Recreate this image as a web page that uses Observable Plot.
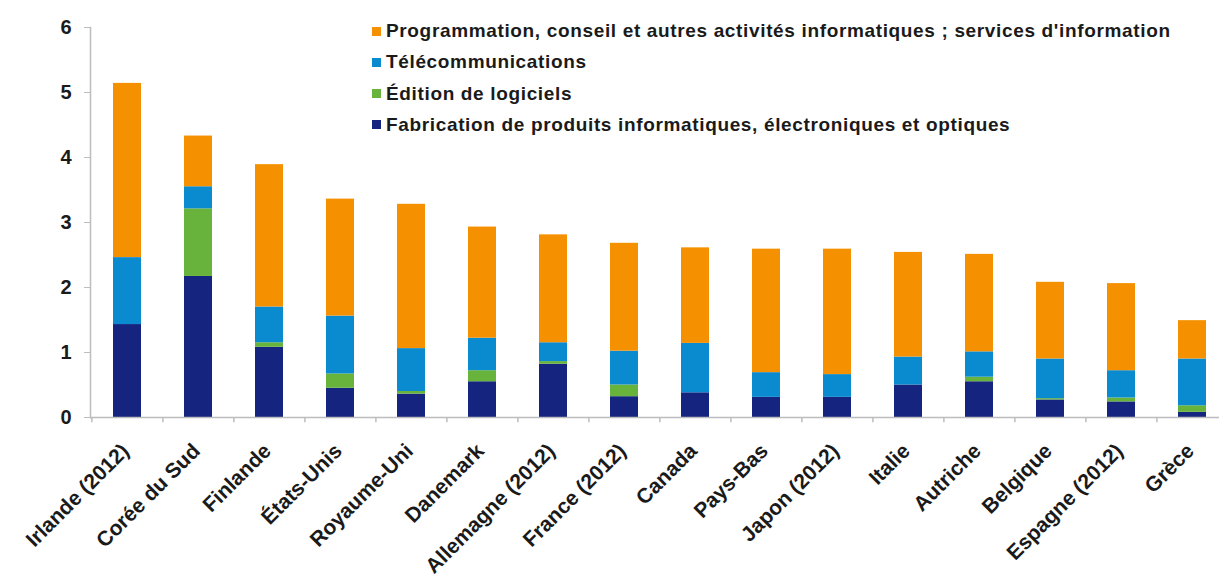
<!DOCTYPE html>
<html>
<head>
<meta charset="utf-8">
<script src="https://cdn.jsdelivr.net/npm/d3@7"></script>
<script src="https://cdn.jsdelivr.net/npm/@observablehq/plot@0.6"></script>
<style>
  html, body { margin: 0; padding: 0; background: #fff; }
  #wrap { position: relative; width: 1219px; height: 582px; font-family: "Liberation Sans", Arial, sans-serif; }
  #legend { position: absolute; left: 372px; top: 15.4px; font-weight: bold; font-size: 19px; letter-spacing: 0.65px; color: #1a1a1a; white-space: nowrap; }
  #legend .row { display: flex; align-items: center; height: 31.3px; }
  #legend .sw { width: 9px; height: 9px; margin-right: 5px; flex: none; }
</style>
</head>
<body>
<div id="wrap"><div id="legend"></div></div>
<script>
const countries = ["Irlande (2012)", "Corée du Sud", "Finlande", "États-Unis", "Royaume-Uni", "Danemark", "Allemagne (2012)", "France (2012)", "Canada", "Pays-Bas", "Japon (2012)", "Italie", "Autriche", "Belgique", "Espagne (2012)", "Grèce"];
const seriesNames = ["Fabrication de produits informatiques, électroniques et optiques", "Édition de logiciels", "Télécommunications", "Programmation, conseil et autres activités informatiques ; services d'information"];
const fab  = [1.43, 2.17, 1.08, 0.45, 0.36, 0.55, 0.82, 0.32, 0.38, 0.31, 0.31, 0.50, 0.55, 0.27, 0.24, 0.08];
const edit = [0.00, 1.04, 0.07, 0.22, 0.04, 0.17, 0.04, 0.18, 0.00, 0.00, 0.00, 0.00, 0.07, 0.02, 0.06, 0.10];
const tele = [1.03, 0.34, 0.55, 0.89, 0.66, 0.50, 0.29, 0.52, 0.76, 0.38, 0.35, 0.43, 0.39, 0.61, 0.42, 0.72];
const prog = [2.68, 0.78, 2.19, 1.80, 2.22, 1.71, 1.66, 1.66, 1.47, 1.90, 1.93, 1.61, 1.50, 1.18, 1.34, 0.59];
const colors = ["#14247f", "#67b33b", "#0a8bd0", "#f59100"];
const yTicks = [0, 1, 2, 3, 4, 5, 6];

const seriesValues = [fab, edit, tele, prog];
const data = [];
countries.forEach((c, i) => {
  seriesValues.forEach((vals, s) => data.push({country: c, series: seriesNames[s], value: vals[i]}));
});

const axisColor = "#bdbdbd";
const font = "Liberation Sans, Arial, sans-serif";

const chart = Plot.plot({
  width: 1219,
  height: 582,
  marginLeft: 90,
  marginRight: 0,
  marginTop: 27,
  marginBottom: 165,
  style: {fontFamily: font, background: "transparent", color: "#1a1a1a"},
  x: {domain: countries, range: [90, 1229], paddingInner: 0.6, paddingOuter: 0.3, axis: null},
  y: {domain: [0, 6], axis: null, label: null},
  color: {domain: seriesNames, range: colors},
  marks: [
    Plot.barY(data, {x: "country", y: "value", fill: "series", order: null}),
    Plot.frame({anchor: "left", stroke: axisColor, strokeWidth: 1.5}),
    Plot.ruleY([0], {stroke: axisColor, strokeWidth: 1.5}),
    Plot.ruleX(countries, {x: d => d, y1: 0, y2: -0.08, dx: -35.6, stroke: axisColor, strokeWidth: 1.5}),
    Plot.axisY({ticks: yTicks, label: null, tickSize: 6, tickPadding: 13, stroke: axisColor, fontSize: 20, fontWeight: "bold", fill: "#1a1a1a", tickFormat: d3.format("d")}),
    Plot.text(countries, {x: d => d, frameAnchor: "bottom", rotate: -45, textAnchor: "end", dx: -2, dy: 30, fontSize: 21, fontWeight: "bold", fill: "#1a1a1a", lineAnchor: "middle"})
  ]
});
document.getElementById("wrap").prepend(chart);
chart.style.position = "absolute";
chart.style.left = "0";
chart.style.top = "0";

const legendOrder = [3, 2, 1, 0];
const legend = d3.select("#legend");
legendOrder.forEach(s => {
  const row = legend.append("div").attr("class", "row");
  row.append("div").attr("class", "sw").style("background", colors[s]);
  row.append("span").text(seriesNames[s]);
});
</script>
</body>
</html>
